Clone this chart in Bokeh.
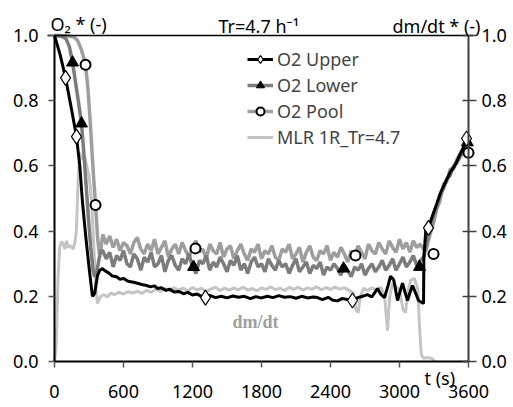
from bokeh.plotting import figure
from bokeh.models import Range1d, LinearAxis, FixedTicker, PrintfTickFormatter, Label, Legend, LegendItem
from bokeh.embed import file_html
from bokeh.resources import INLINE

# ---------------- data ----------------
x_ticks = [0, 600, 1200, 1800, 2400, 3000, 3600]
y_ticks = [0.0, 0.2, 0.4, 0.6, 0.8, 1.0]

# O2 Upper (black)
upper_t = [0, 50, 96, 150, 191, 220, 243, 270, 300, 330, 350, 374, 395, 417, 440, 470, 504, 540, 570, 600,
           640, 687, 720, 760, 800, 835, 870, 895, 930, 970, 1000, 1040, 1080, 1122, 1160, 1200, 1240, 1280,
           1313, 1350, 1400, 1450, 1500, 1550, 1600, 1650, 1704, 1750, 1800, 1850, 1900, 1950, 2000, 2050,
           2100, 2150, 2200, 2250, 2287, 2330, 2380, 2420, 2461, 2500, 2550, 2591, 2630, 2680, 2720, 2760,
           2809, 2840, 2870, 2900, 2922, 2950, 2983, 3005, 3026, 3050, 3070, 3090, 3113, 3140, 3165, 3209,
           3212, 3230, 3252, 3280, 3320, 3360, 3400, 3440, 3480, 3520, 3560, 3600]
upper_v = [1.00, 0.94, 0.87, 0.77, 0.69, 0.60, 0.49, 0.39, 0.29, 0.20, 0.21, 0.264, 0.28, 0.285, 0.278, 0.272,
           0.262, 0.26, 0.252, 0.255, 0.246, 0.243, 0.24, 0.236, 0.233, 0.229, 0.232, 0.224, 0.226, 0.218,
           0.222, 0.213, 0.215, 0.208, 0.212, 0.204, 0.207, 0.199, 0.198, 0.203, 0.196, 0.2, 0.195, 0.201,
           0.197, 0.2, 0.193, 0.199, 0.195, 0.2, 0.196, 0.202, 0.197, 0.199, 0.194, 0.2, 0.195, 0.198, 0.196,
           0.19, 0.197, 0.188, 0.186, 0.193, 0.19, 0.187, 0.195, 0.2, 0.205, 0.198, 0.224, 0.205, 0.196,
           0.232, 0.262, 0.25, 0.187, 0.215, 0.24, 0.21, 0.187, 0.21, 0.233, 0.21, 0.187, 0.178, 0.32, 0.41,
           0.41, 0.44, 0.48, 0.52, 0.55, 0.58, 0.60, 0.63, 0.66, 0.69]

# common sampling grid (s) for the noisy plateau of the two grey O2 series
grid_t = list(range(420, 3211, 30))

# O2 Lower (dark grey)
lower_start_t = [0, 60, 100, 130, 157, 190, 215, 235, 255, 275, 295, 315, 335, 350, 370, 390, 405]
lower_start_v = [1.0, 0.998, 0.99, 0.965, 0.917, 0.84, 0.78, 0.73, 0.64, 0.54, 0.44, 0.35, 0.28, 0.26, 0.28, 0.32, 0.34]
lower_mid_v = [0.34, 0.315, 0.335, 0.29, 0.325, 0.31, 0.34, 0.30, 0.29, 0.33,
               0.315, 0.28, 0.32, 0.305, 0.335, 0.29, 0.30, 0.325, 0.275, 0.31,
               0.325, 0.295, 0.28, 0.315, 0.30, 0.33, 0.29, 0.27, 0.31, 0.30,
               0.325, 0.28, 0.305, 0.29, 0.32, 0.30, 0.275, 0.31, 0.295, 0.325,
               0.28, 0.30, 0.27, 0.305, 0.32, 0.29, 0.30, 0.275, 0.315, 0.295,
               0.28, 0.31, 0.29, 0.30, 0.27, 0.295, 0.315, 0.275, 0.29, 0.305,
               0.27, 0.295, 0.285, 0.305, 0.265, 0.29, 0.28, 0.30, 0.285, 0.265,
               0.295, 0.28, 0.26, 0.29, 0.28, 0.30, 0.265, 0.285, 0.30, 0.275,
               0.29, 0.31, 0.28, 0.295, 0.315, 0.28, 0.30, 0.32, 0.29, 0.305,
               0.325, 0.295, 0.31, 0.32]
lower_end_t = [3230, 3250, 3270, 3296, 3320, 3350, 3383, 3410, 3440, 3470, 3500, 3530, 3557, 3580, 3600]
lower_end_v = [0.35, 0.39, 0.41, 0.45, 0.47, 0.51, 0.53, 0.56, 0.57, 0.60, 0.61, 0.63, 0.645, 0.66, 0.68]

# O2 Pool (lighter grey)
pool_start_t = [0, 100, 170, 200, 230, 255, 270, 290, 310, 330, 345, 357, 375, 390, 405]
pool_start_v = [1.0, 1.0, 0.995, 0.985, 0.96, 0.93, 0.91, 0.84, 0.74, 0.62, 0.54, 0.48, 0.38, 0.33, 0.35]
pool_mid_v = [0.39, 0.36, 0.385, 0.35, 0.375, 0.34, 0.365, 0.355, 0.33, 0.365,
              0.38, 0.345, 0.33, 0.36, 0.34, 0.375, 0.33, 0.35, 0.37, 0.32,
              0.345, 0.36, 0.33, 0.365, 0.34, 0.32, 0.35, 0.37, 0.335, 0.345,
              0.315, 0.36, 0.34, 0.33, 0.365, 0.32, 0.345, 0.355, 0.315, 0.34,
              0.36, 0.33, 0.31, 0.345, 0.335, 0.36, 0.315, 0.34, 0.33, 0.355,
              0.32, 0.31, 0.345, 0.335, 0.36, 0.315, 0.33, 0.35, 0.305, 0.335,
              0.355, 0.32, 0.31, 0.34, 0.33, 0.355, 0.31, 0.335, 0.32, 0.35,
              0.33, 0.305, 0.34, 0.325, 0.355, 0.335, 0.315, 0.36, 0.34, 0.33,
              0.365, 0.345, 0.33, 0.37, 0.35, 0.335, 0.375, 0.345, 0.365, 0.335,
              0.37, 0.35, 0.36, 0.345]
pool_end_t = [3230, 3250, 3275, 3300, 3325, 3350, 3383, 3410, 3440, 3470, 3500, 3530, 3560, 3580, 3600]
pool_end_v = [0.34, 0.37, 0.40, 0.43, 0.47, 0.49, 0.545, 0.55, 0.59, 0.59, 0.62, 0.64, 0.655, 0.68, 0.70]

# MLR 1R_Tr=4.7 (light grey, secondary axis)
mlr_t = [0, 15, 30, 45, 60, 75, 90, 105, 120, 140, 160, 175, 190, 205, 220, 240, 260, 280, 300, 315, 330, 345,
         360, 374, 400, 430, 460, 490, 520, 560, 600, 640, 680, 720, 760, 800, 840, 880, 920, 960, 1000, 1040,
         1080, 1120, 1160, 1200, 1240, 1280, 1320, 1360, 1400, 1440, 1480, 1520, 1560, 1600, 1640, 1680, 1720,
         1760, 1800, 1840, 1880, 1920, 1960, 2000, 2040, 2080, 2120, 2160, 2200, 2240, 2280, 2320, 2360, 2400,
         2440, 2480, 2520, 2560, 2600, 2620, 2640, 2660, 2690, 2720, 2760, 2800, 2840, 2870, 2896, 2915, 2940,
         2970, 3000, 3030, 3052, 3075, 3100, 3130, 3160, 3175, 3190, 3210, 3250, 3290, 3300]
mlr_v = [0.0, 0.05, 0.25, 0.35, 0.368, 0.36, 0.345, 0.37, 0.35, 0.355, 0.345, 0.36, 0.40, 0.55, 0.64, 0.62, 0.63,
         0.60, 0.57, 0.52, 0.44, 0.33, 0.22, 0.178, 0.2, 0.205, 0.198, 0.21, 0.205, 0.212, 0.207, 0.214, 0.21,
         0.216, 0.209, 0.218, 0.212, 0.222, 0.215, 0.224, 0.217, 0.226, 0.219, 0.225, 0.216, 0.227, 0.22, 0.224,
         0.215, 0.222, 0.228, 0.218, 0.225, 0.219, 0.226, 0.22, 0.228, 0.219, 0.224, 0.217, 0.226, 0.221, 0.229,
         0.22, 0.225, 0.218, 0.227, 0.221, 0.228, 0.219, 0.226, 0.222, 0.229, 0.22, 0.227, 0.221, 0.228, 0.222,
         0.226, 0.219, 0.21, 0.16, 0.15, 0.2, 0.225, 0.218, 0.226, 0.22, 0.228, 0.2, 0.095, 0.2, 0.24, 0.23,
         0.22, 0.16, 0.15, 0.22, 0.25, 0.255, 0.22, 0.1, 0.02, 0.01, 0.012, 0.008, 0.0]

# sparse markers
upper_mk_t = [96, 191, 1313, 2591, 3252, 3583]
upper_mk_v = [0.87, 0.69, 0.196, 0.187, 0.41, 0.684]
lower_mk_t = [157, 235, 1209, 2513, 3174, 3590]
lower_mk_v = [0.917, 0.73, 0.29, 0.285, 0.29, 0.672]
pool_mk_t = [270, 357, 1226, 2617, 3296, 3600]
pool_mk_v = [0.91, 0.48, 0.347, 0.325, 0.33, 0.64]

lower_t = lower_start_t + grid_t + lower_end_t
lower_v = lower_start_v + lower_mid_v + lower_end_v
pool_t = pool_start_t + grid_t + pool_end_t
pool_v = pool_start_v + pool_mid_v + pool_end_v

# ---------------- figure ----------------
FONT = "Noto Sans"
FS = "18px"

# the frame spans the whole canvas; the axes are pinned at the data edges
p = figure(width=513, height=407, output_backend="svg", toolbar_location=None,
           x_axis_location=None, y_axis_location=None,
           x_range=Range1d(-469.565, 3991.304), y_range=Range1d(-0.14110, 1.10736),
           min_border=0)
p.extra_y_ranges = {"right": Range1d(-0.14110, 1.10736)}
p.outline_line_color = None
p.grid.visible = False
p.background_fill_color = "white"
p.border_fill_color = "white"

c_upper = "#000000"
c_lower = "#7c7c7c"
c_pool = "#9e9e9e"
c_mlr = "#c4c4c4"

r_mlr = p.line(mlr_t, mlr_v, line_color=c_mlr, line_width=3, y_range_name="right")
r_pool = p.line(pool_t, pool_v, line_color=c_pool, line_width=3.5)
r_lower = p.line(lower_t, lower_v, line_color=c_lower, line_width=3.5)
r_upper = p.line(upper_t, upper_v, line_color=c_upper, line_width=3)

m_pool = p.scatter(pool_mk_t, pool_mk_v, marker="circle", size=10, fill_color="white",
                   line_color="black", line_width=2)
m_lower = p.scatter(lower_mk_t, lower_mk_v, marker="triangle", size=12, fill_color="black",
                    line_color="black", line_width=1)
m_upper = p.scatter(upper_mk_t, upper_mk_v, marker="diamond", size=15, fill_color="white",
                    line_color="black", line_width=1.2)

# axes
xa = LinearAxis(ticker=FixedTicker(ticks=x_ticks), fixed_location=0, bounds=(0, 3600))
ya = LinearAxis(ticker=FixedTicker(ticks=y_ticks), formatter=PrintfTickFormatter(format="%.1f"),
                fixed_location=0, bounds=(0, 1))
ra = LinearAxis(y_range_name="right", ticker=FixedTicker(ticks=y_ticks),
                formatter=PrintfTickFormatter(format="%.1f"), fixed_location=3600, bounds=(0, 1))
ta = LinearAxis(ticker=FixedTicker(ticks=[]), fixed_location=1.0, bounds=(-60, 3640))
p.add_layout(xa, "below")
p.add_layout(ya, "left")
p.add_layout(ra, "right")
p.add_layout(ta, "above")

for ax in (xa, ya, ra, ta):
    ax.minor_tick_line_color = None
    ax.major_label_text_font = FONT
    ax.major_label_text_font_size = FS
    ax.major_label_text_color = "black"
    ax.major_tick_line_width = 1.5
    ax.axis_line_width = 2

ta.major_tick_line_color = None
ta.major_label_text_color = None
ta.axis_line_width = 1.5
ta.axis_line_color = "black"

xa.axis_line_color = "black"
xa.major_tick_line_color = "#555555"
xa.major_tick_in = 0
xa.major_tick_out = 6
xa.major_label_standoff = 17

ya.axis_line_color = "black"
ya.major_tick_line_color = "#555555"
ya.major_tick_in = 0
ya.major_tick_out = 6
ya.major_label_standoff = 10

ra.axis_line_color = "#404040"
ra.major_tick_line_color = "#404040"
ra.major_tick_in = 6
ra.major_tick_out = 8
ra.major_label_standoff = 5

# texts
def add_label(x, y, text, font=FONT, size=FS, color="black", style="normal", align="left"):
    p.add_layout(Label(x=x, y=y, text=text, text_font=font, text_font_size=size,
                       text_color=color, text_font_style=style, text_align=align,
                       text_baseline="alphabetic"))

add_label(-35, 1.034, "O₂ * (-)")
add_label(1426, 1.028, "Tr=4.7 h⁻¹")
add_label(2939, 1.028, "dm/dt * (-)")
add_label(3217, -0.052, "t (s)")
add_label(1548, 0.12, "dm/dt", font="Liberation Serif", size="18px", color="#a0a0a0", style="bold")

legend = Legend(items=[
    LegendItem(label="O2 Upper", renderers=[r_upper, m_upper]),
    LegendItem(label="O2 Lower", renderers=[r_lower, m_lower]),
    LegendItem(label="O2 Pool", renderers=[r_pool, m_pool]),
    LegendItem(label="MLR 1R_Tr=4.7", renderers=[r_mlr]),
], location=(247, 258))
legend.background_fill_alpha = 0
legend.border_line_color = None
legend.padding = 0
legend.margin = 0
legend.spacing = 2
legend.glyph_height = 20
legend.glyph_width = 26
legend.label_height = 20
legend.label_standoff = 4
legend.label_text_font = FONT
legend.label_text_font_size = FS
p.add_layout(legend)

open("out.html", "w").write(file_html(p, INLINE))
